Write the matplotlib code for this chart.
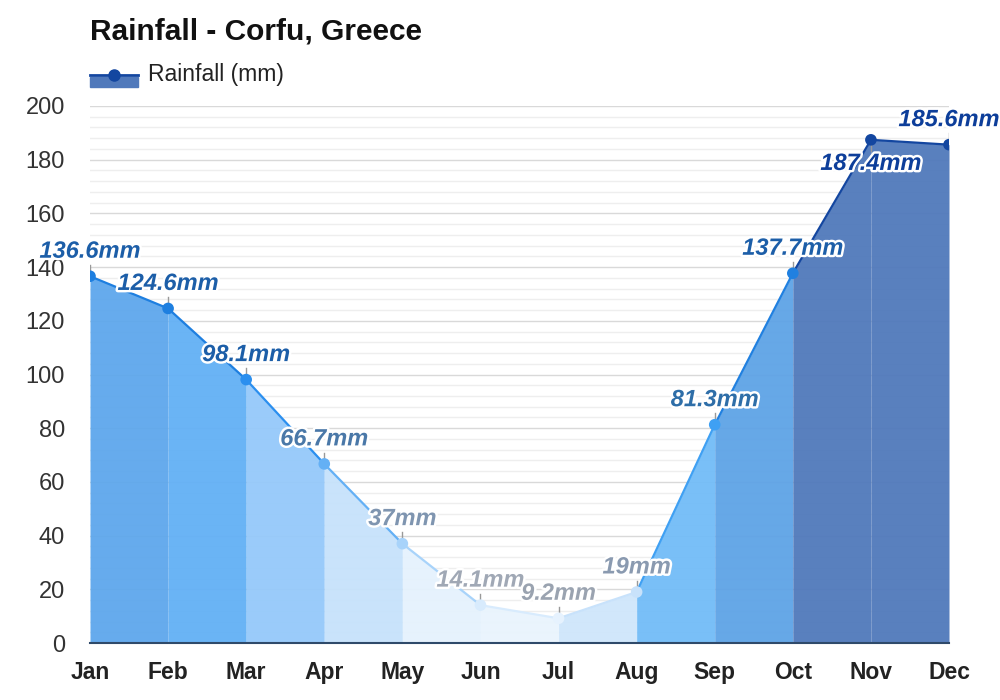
import matplotlib.pyplot as plt
import matplotlib.patheffects as pe
from matplotlib.patches import Rectangle
from matplotlib.lines import Line2D

plt.rcParams['font.family'] = ['Liberation Sans', 'DejaVu Sans']

months = ["Jan", "Feb", "Mar", "Apr", "May", "Jun", "Jul", "Aug", "Sep", "Oct", "Nov", "Dec"]
rainfall = [136.6, 124.6, 98.1, 66.7, 37, 14.1, 9.2, 19, 81.3, 137.7, 187.4, 185.6]
labels = ["136.6mm", "124.6mm", "98.1mm", "66.7mm", "37mm", "14.1mm", "9.2mm", "19mm",
          "81.3mm", "137.7mm", "187.4mm", "185.6mm"]

# fill colour of the band starting at each month
fill_colors = ["#5ea7ec", "#62b0f5", "#95c9fa", "#c6e2fb", "#e5f2fd", "#e9f4fd",
               "#cfe6fb", "#72bcf7", "#5ea3e6", "#5079bb", "#5079bb"]
point_colors = ["#1e7fe0", "#1e7fe0", "#2b8fef", "#64b0f5", "#a8d3fa", "#d8ebfd",
                "#e6f2fe", "#c8e2fb", "#3fa0f3", "#2080e0", "#1346a0", "#1346a0"]
label_colors = ["#1c5ea8", "#1c5ea8", "#1c5ea8", "#4a78a8", "#7f95b0", "#a0a8b5",
                "#9aa3b0", "#8a9ab0", "#2e6ea8", "#1c5ea8", "#0d3e9a", "#0d3e9a"]
label_below = [False] * 10 + [True, False]

fig = plt.figure(figsize=(10, 7), dpi=100)
ax = fig.add_axes([0.09, 1 - 643 / 700, 0.859, 537 / 700])

x = list(range(len(months)))

# grid
for v in range(0, 201, 4):
    if v % 20 == 0:
        ax.axhline(v, color="#d9d9d9", lw=1, zorder=0)
    else:
        ax.axhline(v, color="#eeeeee", lw=1, zorder=0)

for i in range(len(months) - 1):
    xs = [x[i], x[i + 1]]
    ys = [rainfall[i], rainfall[i + 1]]
    ax.fill_between(xs, ys, 0, color=fill_colors[i], alpha=0.95, lw=0, zorder=1)
    # line takes the colour of the higher end point
    j = i if rainfall[i] >= rainfall[i + 1] else i + 1
    ax.plot(xs, ys, color=point_colors[j], lw=1.6, zorder=2)

ax.scatter(x, rainfall, s=70, c=point_colors, zorder=4, linewidths=0)

stroke = [pe.withStroke(linewidth=3.5, foreground="white")]
for i, (v, lab) in enumerate(zip(rainfall, labels)):
    if label_below[i]:
        ax.plot([x[i], x[i]], [v, v - 4.2], color="#999999", lw=1, zorder=3)
        ax.annotate(lab, (x[i], v), xytext=(0, -17), textcoords="offset points",
                    ha="center", va="center", fontsize=17, fontweight="bold",
                    fontstyle="italic", color=label_colors[i], zorder=5,
                    path_effects=stroke)
    else:
        ax.plot([x[i], x[i]], [v, v + 4.2], color="#999999", lw=1, zorder=3)
        ax.annotate(lab, (x[i], v), xytext=(0, 18), textcoords="offset points",
                    ha="center", va="center", fontsize=17, fontweight="bold",
                    fontstyle="italic", color=label_colors[i], zorder=5,
                    path_effects=stroke, annotation_clip=False)

ax.set_xlim(0, 11)
ax.set_ylim(0, 200)
ax.set_xticks(x)
ax.set_xticklabels(months, fontsize=16.5, fontweight="bold", color="#222222")
ax.set_yticks(range(0, 201, 20))
ax.tick_params(axis="y", labelsize=17, colors="#333333", length=0, pad=18)
ax.tick_params(axis="x", length=0, pad=13)
for side in ["top", "right", "left"]:
    ax.spines[side].set_visible(False)
ax.spines["bottom"].set_color("#2f4a6a")
ax.spines["bottom"].set_linewidth(1.5)
ax.spines["bottom"].set_zorder(6)

fig.text(0.09, 1 - 32 / 700, "Rainfall - Corfu, Greece", fontsize=21.5,
         fontweight="bold", va="center", ha="left", color="#111111")

# legend
fig.patches.append(Rectangle((0.09, 1 - 87 / 700), 0.048, 10 / 700,
                             transform=fig.transFigure, color="#5079bb"))
fig.lines.append(Line2D([0.09, 0.138], [1 - 75 / 700] * 2, transform=fig.transFigure,
                        color="#1346a0", lw=2))
fig.lines.append(Line2D([0.114], [1 - 75 / 700], transform=fig.transFigure,
                        color="#1346a0", marker="o", markersize=8, lw=0))
fig.text(0.148, 1 - 75 / 700, "Rainfall (mm)", fontsize=16.5, va="center",
         ha="left", color="#222222")

fig.savefig("out.png", dpi=100)
